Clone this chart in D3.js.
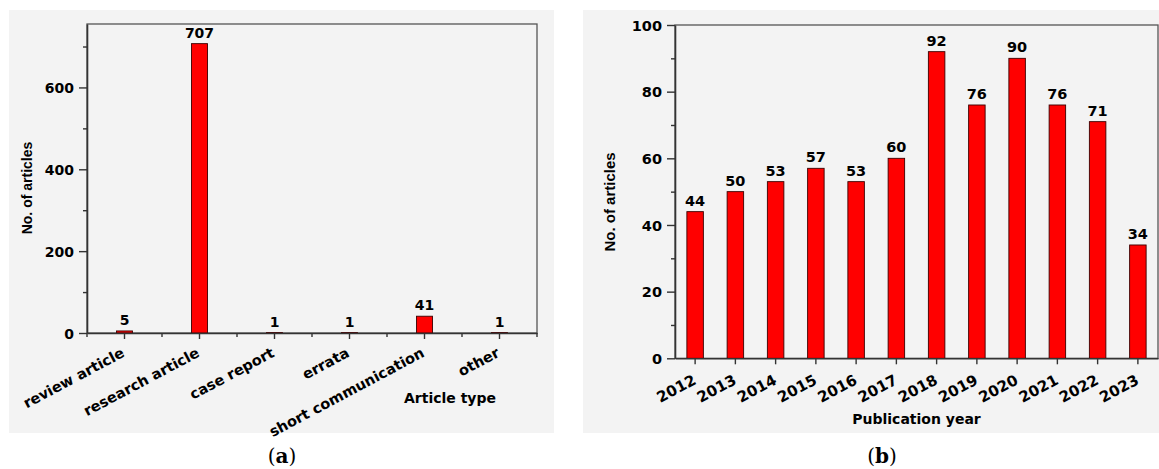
<!DOCTYPE html>
<html>
<head>
<meta charset="utf-8">
<script src="https://cdn.jsdelivr.net/npm/d3@7/dist/d3.min.js"></script>
<style>
    html, body { margin: 0; padding: 0; background: #fff; }
    svg { display: block; }
    .tick-label { font-family: "DejaVu Sans", sans-serif; font-weight: bold; fill: #000; }
</style>
</head>
<body>
<svg id="chart" width="1159" height="469"></svg>
<script>
// (a) articles by type
const typeCategories = ['review article', 'research article', 'case report', 'errata', 'short communication', 'other'];
const typeCounts = [5, 707, 1, 1, 41, 1];
const typeMajorTicks = [0, 200, 400, 600];
const typeMinorTicks = [100, 300, 500, 700];

// (b) articles by publication year
const years = ['2012', '2013', '2014', '2015', '2016', '2017', '2018', '2019', '2020', '2021', '2022', '2023'];
const yearCounts = [44, 50, 53, 57, 53, 60, 92, 76, 90, 76, 71, 34];
const yearMajorTicks = [0, 20, 40, 60, 80, 100];
const yearMinorTicks = [10, 30, 50, 70, 90];

const AXIS_COLOR = '#333';
const BAR_COLOR = '#ff0000';

const svg = d3.select('#chart');

function drawPanel(cfg) {
    const g = svg.append('g');

    // light grey panel behind each chart
    g.append('rect')
        .attr('x', cfg.bg[0]).attr('y', cfg.bg[1])
        .attr('width', cfg.bg[2] - cfg.bg[0]).attr('height', cfg.bg[3] - cfg.bg[1])
        .attr('fill', '#f3f3f3');

    const barFrac = cfg.barWidth / ((cfg.x1 - cfg.x0) / cfg.categories.length);
    const x = d3.scaleBand()
        .domain(cfg.categories)
        .range([cfg.x0, cfg.x1])
        .paddingInner(1 - barFrac)
        .paddingOuter((1 - barFrac) / 2);
    const y = d3.scaleLinear().domain(cfg.yDomain).range([cfg.yBottom, cfg.yTop]);

    // frame
    g.append('rect')
        .attr('x', cfg.x0).attr('y', cfg.yTop)
        .attr('width', cfg.x1 - cfg.x0).attr('height', cfg.yBottom - cfg.yTop)
        .attr('fill', 'none').attr('stroke', '#555').attr('stroke-width', 1.3);

    g.selectAll('.bar')
        .data(cfg.values)
        .join('rect')
        .attr('class', 'bar')
        .attr('x', function (d, i) { return x(cfg.categories[i]); })
        .attr('y', function (d) { return y(d); })
        .attr('width', x.bandwidth())
        .attr('height', function (d) { return y(0) - y(d); })
        .attr('fill', BAR_COLOR)
        .attr('stroke', '#3a0000')
        .attr('stroke-width', 0.9);

    g.selectAll('.bar-label')
        .data(cfg.values)
        .join('text')
        .attr('class', 'tick-label')
        .attr('x', function (d, i) { return x(cfg.categories[i]) + x.bandwidth() / 2; })
        .attr('y', function (d) { return y(d) - 6; })
        .attr('text-anchor', 'middle')
        .style('font-size', cfg.barLabelSize + 'px')
        .text(function (d) { return d; });

    // y axis, major + minor
    const yAxis = g.append('g')
        .attr('transform', 'translate(' + cfg.x0 + ',0)')
        .call(d3.axisLeft(y).tickValues(cfg.majorTicks).tickSize(8).tickPadding(5).tickSizeOuter(0));
    g.append('g')
        .attr('transform', 'translate(' + cfg.x0 + ',0)')
        .call(d3.axisLeft(y).tickValues(cfg.minorTicks).tickSize(4).tickFormat('').tickSizeOuter(0))
        .call(function (s) { s.select('.domain').remove(); });
    yAxis.selectAll('text')
        .attr('class', 'tick-label')
        .style('font-size', cfg.yTickSize + 'px')
        .attr('dy', '0.36em');

    // x axis
    const xAxis = g.append('g')
        .attr('transform', 'translate(0,' + cfg.yBottom + ')')
        .call(d3.axisBottom(x).tickSize(6).tickSizeOuter(0));
    xAxis.selectAll('text')
        .attr('class', 'tick-label')
        .style('font-size', cfg.xTickSize + 'px')
        .attr('text-anchor', 'end')
        .attr('x', 0).attr('y', 0).attr('dy', 0)
        .attr('transform', 'translate(' + cfg.xLabelShift[0] + ',' + cfg.xLabelShift[1] + ') rotate(-28)');

    if (cfg.xMinor) {
        const edges = d3.range(cfg.categories.length + 1).map(function (i) { return cfg.x0 + i * x.step(); });
        g.selectAll('.x-minor')
            .data(edges)
            .join('line')
            .attr('x1', function (d) { return d; }).attr('x2', function (d) { return d; })
            .attr('y1', cfg.yBottom).attr('y2', cfg.yBottom + 4)
            .attr('stroke', AXIS_COLOR).attr('stroke-width', 1.4);
    }

    g.selectAll('.domain').attr('stroke', AXIS_COLOR).attr('stroke-width', 1.6);
    g.selectAll('.tick line').attr('stroke', AXIS_COLOR).attr('stroke-width', 1.4);

    // axis titles
    g.append('text')
        .attr('transform', 'translate(' + cfg.yTitlePos[0] + ',' + cfg.yTitlePos[1] + ') rotate(-90)')
        .attr('text-anchor', 'middle')
        .attr('dy', '0.35em')
        .style('font-family', '"Liberation Sans", Arial, sans-serif')
        .style('font-weight', 'bold')
        .style('font-size', cfg.yTitleSize + 'px')
        .attr('fill', '#000')
        .text('No. of articles');

    g.append('text')
        .attr('class', 'tick-label')
        .attr('x', cfg.xTitlePos[0]).attr('y', cfg.xTitlePos[1])
        .attr('text-anchor', 'middle')
        .attr('dy', '0.35em')
        .style('font-size', '14px')
        .text(cfg.xTitle);

    // panel letter
    const letter = g.append('text')
        .attr('x', cfg.letterX).attr('y', 463)
        .attr('text-anchor', 'middle')
        .style('font-family', '"DejaVu Serif", serif')
        .style('font-size', '20px')
        .attr('fill', '#000');
    letter.append('tspan').text('(');
    letter.append('tspan').style('font-weight', 'bold').text(cfg.letter);
    letter.append('tspan').text(')');
}

drawPanel({
    categories: typeCategories, values: typeCounts,
    majorTicks: typeMajorTicks, minorTicks: typeMinorTicks,
    bg: [9, 10, 554, 433],
    x0: 87, x1: 537, yTop: 24, yBottom: 333, yDomain: [0, 755],
    barWidth: 16, barLabelSize: 14, yTickSize: 14, xTickSize: 14.5,
    xLabelShift: [1, 23], xMinor: true,
    yTitlePos: [27, 188], yTitleSize: 14,
    xTitle: 'Article type', xTitlePos: [450, 398],
    letter: 'a', letterX: 282
});

drawPanel({
    categories: years, values: yearCounts,
    majorTicks: yearMajorTicks, minorTicks: yearMinorTicks,
    bg: [583, 10, 1159, 433],
    x0: 675, x1: 1158, yTop: 25, yBottom: 358.3, yDomain: [0, 100],
    barWidth: 16.5, barLabelSize: 14.5, yTickSize: 14.5, xTickSize: 15,
    xLabelShift: [2, 25], xMinor: false,
    yTitlePos: [609.5, 202], yTitleSize: 15,
    xTitle: 'Publication year', xTitlePos: [916.5, 419],
    letter: 'b', letterX: 882
});
</script>
</body>
</html>
